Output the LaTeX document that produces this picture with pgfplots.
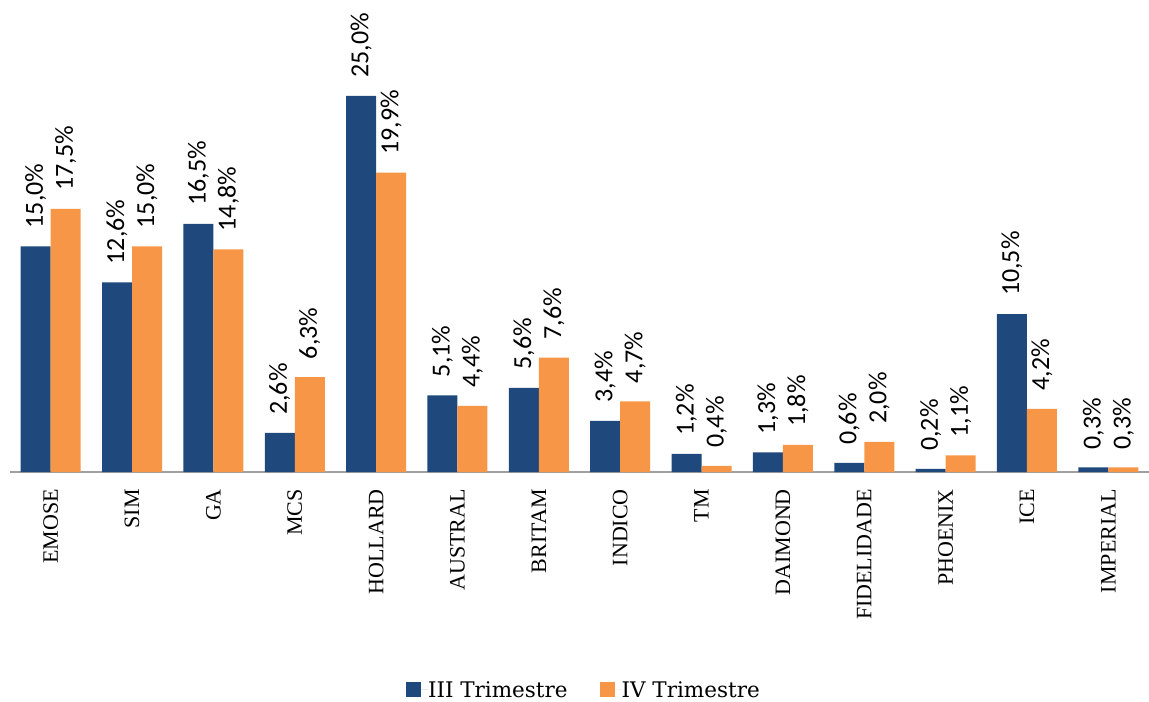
\documentclass[border=0pt]{standalone}
\usepackage{pgfplots}
\pgfplotsset{compat=1.18}
\usepackage{fontspec}
\setmainfont{Liberation Serif}
\newfontfamily\lblfont{Carlito}
\newfontfamily\legfont{DejaVu Serif}
\definecolor{cblue}{RGB}{31,73,125}
\definecolor{corange}{RGB}{247,150,70}
\definecolor{caxis}{RGB}{160,160,160}
\begin{document}
\begin{tikzpicture}
\useasboundingbox (0,0) rectangle (1149bp,702bp);
\begin{axis}[
  at={(10bp,230bp)}, anchor=south west,
  scale only axis, width=1139bp, height=451.2bp,
  xmin=-0.5, xmax=13.5, ymin=0, ymax=30,
  ybar=0pt, bar width=30bp,
  axis x line*=bottom, axis y line=none,
  axis line style={caxis, line width=1.2bp, -},
  xtick={0,...,13}, major tick length=0pt,
  xticklabels={EMOSE,SIM,GA,MCS,HOLLARD,AUSTRAL,BRITAM,INDICO,TM,DAIMOND,FIDELIDADE,PHOENIX,ICE,IMPERIAL},
  xticklabel style={rotate=90, anchor=east, inner sep=0pt, font=\fontsize{22bp}{26bp}\selectfont},
  xticklabel shift=17bp,
  nodes near coords={\pgfmathprintnumber[fixed,fixed zerofill,precision=1,use comma,assume math mode=true]{\pgfplotspointmeta}\%},
  every node near coord/.append style={rotate=90, anchor=west, inner ysep=0pt, inner xsep=18bp, font=\lblfont\fontsize{26bp}{30bp}\selectfont, black},
  legend columns=2,
  legend style={at={(0.5030,-0.483)}, anchor=center, draw=none, fill=none,
    font=\legfont\fontsize{21.5bp}{26bp}\selectfont, inner sep=0pt,
    nodes={inner sep=0pt},
    /tikz/every even column/.append style={column sep=32bp}},
  legend image code/.code={\fill[#1] (0bp,-7.5bp) rectangle (15bp,7.5bp); \path (0bp,0bp) -- (22bp,0bp);},
  clip=false,
]
\addplot[fill=cblue, draw=none] coordinates {
(0,15.0) (1,12.6) (2,16.5) (3,2.6) (4,25.0) (5,5.1) (6,5.6) (7,3.4) (8,1.2) (9,1.3) (10,0.6) (11,0.2) (12,10.5) (13,0.3)};
\addplot[fill=corange, draw=none] coordinates {
(0,17.5) (1,15.0) (2,14.8) (3,6.3) (4,19.9) (5,4.4) (6,7.6) (7,4.7) (8,0.4) (9,1.8) (10,2.0) (11,1.1) (12,4.2) (13,0.3)};
\legend{III Trimestre, IV Trimestre}
\end{axis}
\end{tikzpicture}
\end{document}
